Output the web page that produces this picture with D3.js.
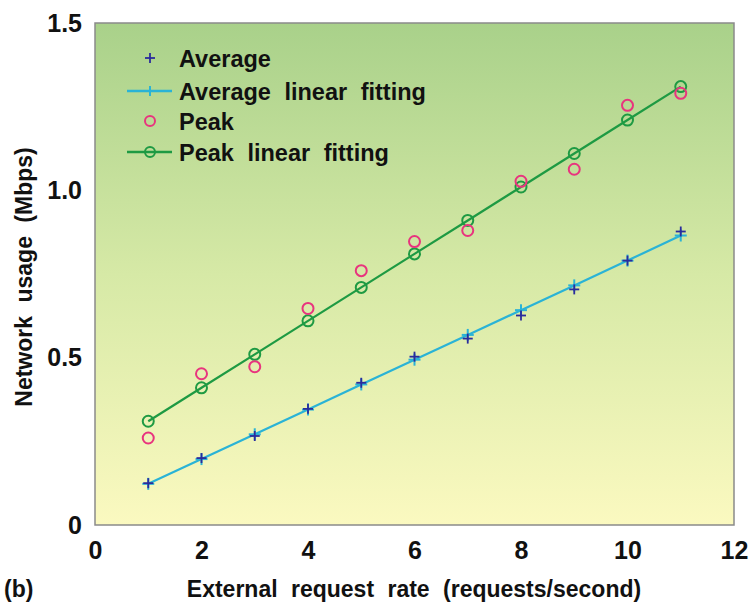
<!DOCTYPE html>
<html>
<head>
<meta charset="utf-8">
<script src="https://cdn.jsdelivr.net/npm/d3@7"></script>
<style>
  body { margin: 0; background: #fff; }
  text { font-family: "Liberation Sans", Arial, sans-serif; font-weight: bold; fill: #111; }
</style>
</head>
<body>
<script>
// request rates
const rates = [1, 2, 3, 4, 5, 6, 7, 8, 9, 10, 11];
// measured values (Mbps)
const averageUsage = [0.125, 0.20, 0.266, 0.347, 0.425, 0.503, 0.557, 0.626, 0.704, 0.79, 0.877];
const peakUsage = [0.26, 0.452, 0.473, 0.647, 0.76, 0.847, 0.88, 1.027, 1.063, 1.254, 1.29];
// fitted lines
const averageFit = [0.123, 0.197, 0.271, 0.345, 0.42, 0.494, 0.568, 0.642, 0.716, 0.79, 0.865];
const peakFit = [0.31, 0.41, 0.51, 0.61, 0.71, 0.81, 0.91, 1.01, 1.11, 1.21, 1.31];

const xTicks = [0, 2, 4, 6, 8, 10, 12];
const yTicks = [0, 0.5, 1.0, 1.5];
const legendLabels = ["Average", "Average linear fitting", "Peak", "Peak linear fitting"];

const W = 750, H = 605;
const m = {left: 95, right: 16, top: 23, bottom: 80};

const svg = d3.select('body').append('svg')
    .attr('width', W)
    .attr('height', H);

const x = d3.scaleLinear().domain([0, 12]).range([m.left, W - m.right]);
const y = d3.scaleLinear().domain([0, 1.5]).range([H - m.bottom, m.top]);

// background gradient
const grad = svg.append('defs').append('linearGradient')
    .attr('id', 'bg').attr('x1', 0).attr('y1', 0).attr('x2', 0).attr('y2', 1);
grad.append('stop').attr('offset', '0%').attr('stop-color', '#a9d18a');
grad.append('stop').attr('offset', '50%').attr('stop-color', '#d6e9a6');
grad.append('stop').attr('offset', '100%').attr('stop-color', '#fbf9c0');

svg.append('rect')
    .attr('x', x(0)).attr('y', y(1.5))
    .attr('width', x(12) - x(0)).attr('height', y(0) - y(1.5))
    .attr('fill', 'url(#bg)')
    .attr('stroke', '#8a8a8a')
    .attr('stroke-width', 1.5);

// axes (labels only)
const xAxis = svg.append('g')
    .attr('transform', `translate(0,${y(0)})`)
    .call(d3.axisBottom(x).tickValues(xTicks).tickSize(0).tickPadding(16).tickFormat(d3.format('d')));
xAxis.select('.domain').remove();
xAxis.selectAll('text').style('font-size', '25px');

const yAxis = svg.append('g')
    .attr('transform', `translate(${x(0)},0)`)
    .call(d3.axisLeft(y).tickValues(yTicks).tickSize(0).tickPadding(13)
        .tickFormat(d => d === 0 ? '0' : d3.format('.1f')(d)));
yAxis.select('.domain').remove();
yAxis.selectAll('text').style('font-size', '25px');

svg.append('text')
    .attr('x', 414).attr('y', 597)
    .attr('text-anchor', 'middle')
    .style('font-size', '23px')
    .style('word-spacing', '7px')
    .text('External request rate (requests/second)');

svg.append('text')
    .attr('transform', 'translate(32,277) rotate(-90)')
    .attr('text-anchor', 'middle')
    .style('font-size', '23px')
    .style('word-spacing', '7px')
    .text('Network usage (Mbps)');

svg.append('text')
    .attr('x', 4).attr('y', 597)
    .style('font-size', '23px')
    .text('(b)');

const cyan = '#2ab3d6', navy = '#2b2b9c', pink = '#e8347e', green = '#1e9a43';

function plus(sel, size, color, width) {
  sel.each(function(d) {
    const g = d3.select(this);
    g.append('line').attr('x1', -size).attr('x2', size).attr('y1', 0).attr('y2', 0);
    g.append('line').attr('x1', 0).attr('x2', 0).attr('y1', -size).attr('y2', size);
  });
  sel.selectAll('line').attr('stroke', color).attr('stroke-width', width);
}

const line = d3.line().x(d => x(d[0])).y(d => y(d[1]));

// average fit line
svg.append('path')
    .datum(rates.map((r, i) => [r, averageFit[i]]))
    .attr('d', line)
    .attr('fill', 'none').attr('stroke', cyan).attr('stroke-width', 2.2);
svg.selectAll('.afit').data(rates.map((r, i) => [r, averageFit[i]]))
  .enter().append('g').attr('class', 'afit')
    .attr('transform', d => `translate(${x(d[0])},${y(d[1])})`)
    .call(plus, 6, cyan, 2);

// average points
svg.selectAll('.avg').data(rates.map((r, i) => [r, averageUsage[i]]))
  .enter().append('g').attr('class', 'avg')
    .attr('transform', d => `translate(${x(d[0])},${y(d[1])})`)
    .call(plus, 5, navy, 1.8);

// peak fit line
svg.append('path')
    .datum(rates.map((r, i) => [r, peakFit[i]]))
    .attr('d', line)
    .attr('fill', 'none').attr('stroke', green).attr('stroke-width', 2.2);
svg.selectAll('.pfit').data(rates.map((r, i) => [r, peakFit[i]]))
  .enter().append('circle').attr('class', 'pfit')
    .attr('cx', d => x(d[0])).attr('cy', d => y(d[1])).attr('r', 5.5)
    .attr('fill', 'none').attr('stroke', green).attr('stroke-width', 2);

// peak points
svg.selectAll('.peak').data(rates.map((r, i) => [r, peakUsage[i]]))
  .enter().append('circle').attr('class', 'peak')
    .attr('cx', d => x(d[0])).attr('cy', d => y(d[1])).attr('r', 5.5)
    .attr('fill', 'none').attr('stroke', pink).attr('stroke-width', 2);

// legend
const legRows = [58, 91, 121, 152];
const leg = svg.append('g');
legendLabels.forEach((label, i) => {
  const ly = legRows[i];
  const g = leg.append('g').attr('transform', `translate(150,${ly})`);
  if (i === 0) {
    g.datum(0).call(plus, 5, navy, 1.8);
  } else if (i === 1) {
    g.append('line').attr('x1', -23).attr('x2', 22).attr('stroke', cyan).attr('stroke-width', 2.5);
    g.append('g').datum(0).call(plus, 5, cyan, 2);
  } else if (i === 2) {
    g.append('circle').attr('r', 5).attr('fill', 'none').attr('stroke', pink).attr('stroke-width', 2);
  } else {
    g.append('line').attr('x1', -23).attr('x2', 22).attr('stroke', green).attr('stroke-width', 2.5);
    g.append('circle').attr('r', 5).attr('fill', 'none').attr('stroke', green).attr('stroke-width', 2);
  }
  leg.append('text')
    .attr('x', 179).attr('y', ly + 9)
    .style('font-size', '23.5px')
    .style('word-spacing', '7px')
    .text(label);
});
</script>
</body>
</html>
